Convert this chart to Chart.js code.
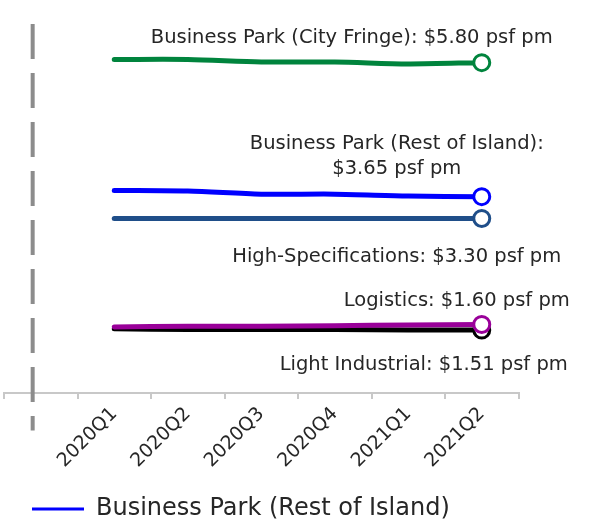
<!DOCTYPE html>
<html>
<head>
<meta charset="utf-8">
<title>Industrial rents</title>
<script src="https://cdn.jsdelivr.net/npm/chart.js@4.4.1/dist/chart.umd.min.js"></script>
<style>
  html, body { margin: 0; padding: 0; background: #fff; }
  #wrap { width: 590px; height: 527px; }
</style>
</head>
<body>
<div id="wrap"><canvas id="rentChart"></canvas></div>
<script>
// quarters on the x axis (first slot is left blank for the divider)
const quarters = ["2020Q1", "2020Q2", "2020Q3", "2020Q4", "2021Q1", "2021Q2"];

// median rents, $ psf pm
const cityFringe = [5.85, 5.85, 5.81, 5.81, 5.78, 5.80];
const restOfIsland = [3.75, 3.74, 3.69, 3.69, 3.66, 3.65];
const highSpecs = [3.30, 3.30, 3.30, 3.30, 3.30, 3.30];
const logistics = [1.56, 1.57, 1.57, 1.58, 1.59, 1.60];
const lightIndustrial = [1.53, 1.52, 1.52, 1.52, 1.51, 1.51];

// divider position (in slot units) and its vertical extent
const dividerX = -0.11;
const dividerSpan = [6.42, -0.1];

const FONT = "'DejaVu Sans', sans-serif";
const TEXT = "#262626";

const labels = [""].concat(quarters);
const pad = (arr) => [null].concat(arr);
const endMarker = (n) => Array.from({ length: n + 1 }, (_, i) => (i === n ? 8 : 0));

function series(name, values, color) {
  return {
    label: name,
    data: pad(values),
    borderColor: color,
    backgroundColor: color,
    borderWidth: 5,
    borderCapStyle: "round",
    tension: 0.3,
    pointRadius: endMarker(values.length),
    pointBackgroundColor: "#fff",
    pointBorderColor: color,
    pointBorderWidth: 3,
    clip: false,
  };
}

const datasets = [
  series("Business Park (City Fringe)", cityFringe, "#00843d"),
  series("Business Park (Rest of Island)", restOfIsland, "#0000ff"),
  series("High-Specifications", highSpecs, "#1f4e89"),
  series("Logistics", logistics, "#990099"),
  series("Light Industrial", lightIndustrial, "#000000"),
  {
    label: "divider",
    xAxisID: "xd",
    data: dividerSpan.map((y) => ({ x: dividerX, y: y })),
    borderColor: "#8c8c8c",
    borderWidth: 4,
    borderDash: [35, 14],
    pointRadius: 0,
    clip: false,
  },
];

// where each end label sits relative to the last point: [dx, dy] per text line
const endLabels = {
  "Business Park (City Fringe)": { lines: (v) => [`Business Park (City Fringe): $${v} psf pm`], at: [[-130, -25]] },
  "Business Park (Rest of Island)": { lines: (v) => ["Business Park (Rest of Island):", `$${v} psf pm`], at: [[-85, -53], [-85, -28]] },
  "High-Specifications": { lines: (v) => [`High-Specifications: $${v} psf pm`], at: [[-85, 38]] },
  "Logistics": { lines: (v) => [`Logistics: $${v} psf pm`], at: [[-25, -23]] },
  "Light Industrial": { lines: (v) => [`Light Industrial: $${v} psf pm`], at: [[-58, 35]] },
};

const endLabelPlugin = {
  id: "endLabels",
  afterDatasetsDraw(chart) {
    const ctx = chart.ctx;
    ctx.save();
    ctx.font = `19.5px ${FONT}`;
    ctx.fillStyle = TEXT;
    ctx.textAlign = "center";
    ctx.textBaseline = "middle";
    chart.data.datasets.forEach((ds, i) => {
      const cfg = endLabels[ds.label];
      if (!cfg) return;
      const meta = chart.getDatasetMeta(i);
      const last = ds.data.length - 1;
      const pt = meta.data[last];
      const text = cfg.lines(ds.data[last].toFixed(2));
      text.forEach((t, k) => {
        ctx.fillText(t, pt.x + cfg.at[k][0], pt.y + cfg.at[k][1]);
      });
    });
    ctx.restore();
  },
};

new Chart(document.getElementById("rentChart"), {
  type: "line",
  data: { labels: labels, datasets: datasets },
  options: {
    responsive: true,
    maintainAspectRatio: false,
    animation: false,
    layout: { autoPadding: false, padding: { left: 4, right: 71.5, top: 19, bottom: 0 } },
    scales: {
      x: {
        type: "category",
        offset: true,
        grid: { offset: true, drawOnChartArea: false, tickLength: 6, color: "#c8c8c8", lineWidth: 2 },
        border: { color: "#c8c8c8", width: 2 },
        ticks: {
          autoSkip: false,
          minRotation: 45,
          maxRotation: 45,
          padding: 4,
          color: TEXT,
          font: { family: FONT, size: 19 },
        },
        afterFit(scale) {
          // keep the plot edge fixed, labels may hang over it
          scale.height = 76;
          scale.paddingLeft = 0;
          scale.paddingRight = 0;
        },
      },
      xd: { type: "linear", display: false, min: -0.5, max: 6.5 },
      y: { display: false, min: 0.5, max: 6.5 },
    },
    plugins: {
      tooltip: { enabled: false },
      legend: {
        position: "bottom",
        align: "start",
        maxHeight: 58,
        labels: {
          filter: (item) => item.text === "Business Park (Rest of Island)",
          usePointStyle: true,
          pointStyle: "line",
          pointStyleWidth: 52,
          padding: 28,
          color: TEXT,
          font: { family: FONT, size: 24 },
        },
      },
    },
  },
  plugins: [endLabelPlugin],
});
</script>
</body>
</html>
